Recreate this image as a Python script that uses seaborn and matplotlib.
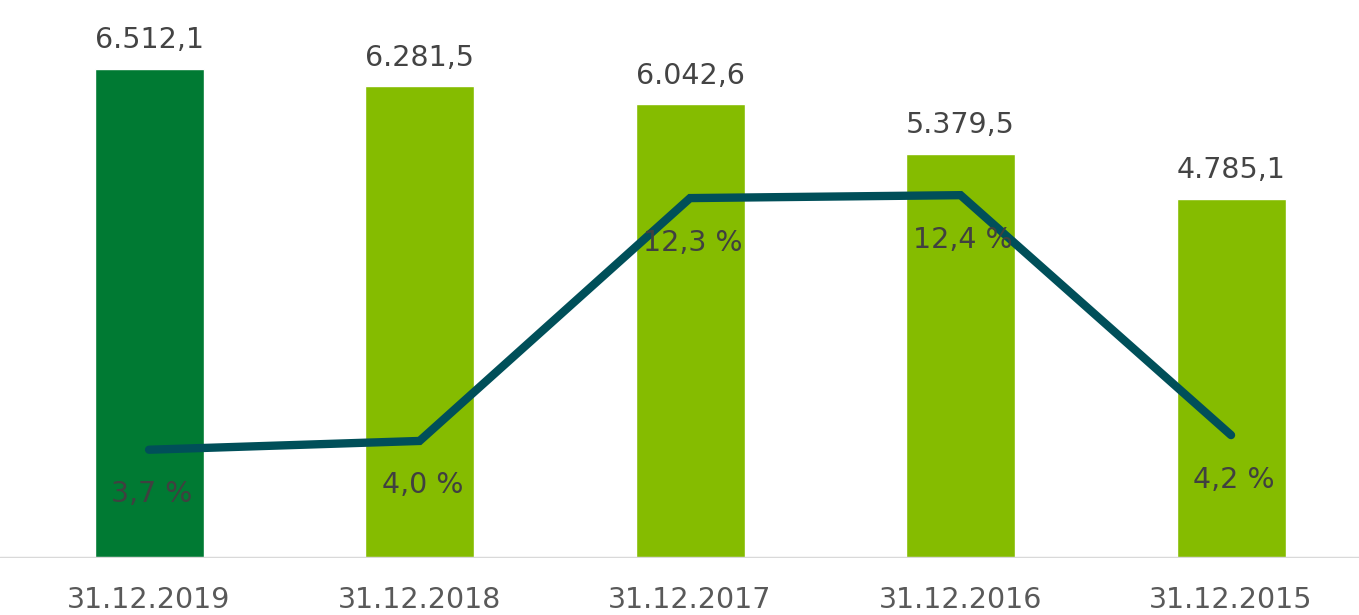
import numpy as np
import pandas as pd
import matplotlib.pyplot as plt
import seaborn as sns

# values
dates = ['31.12.2019', '31.12.2018', '31.12.2017', '31.12.2016', '31.12.2015']
volume = [6512.1, 6281.5, 6042.6, 5379.5, 4785.1]
growth = [3.7, 4.0, 12.3, 12.4, 4.2]

def de_num(v, dec=1):
    s = f'{v:,.{dec}f}'
    return s.replace(',', 'X').replace('.', ',').replace('X', '.')

sns.set_theme(style='white')
plt.rcParams['font.family'] = ['DejaVu Sans']

df = pd.DataFrame({'date': dates, 'volume': volume, 'growth': growth})
df['current'] = ['yes'] + ['no'] * 4

fig = plt.figure(figsize=(13.59, 6.15), dpi=100)
ax = fig.add_axes([0.0, 0.0927, 1.0, 0.9073])

sns.barplot(data=df, x='date', y='volume', hue='current',
            palette={'yes': '#007A33', 'no': '#85BC00'},
            width=0.403, dodge=False, legend=False, ax=ax, saturation=1)
ax.set_ylim(0, 7430)
ax.set_xlim(-0.551, 4.473)

for i, v in enumerate(volume):
    ax.annotate(de_num(v), (i, v), xytext=(0, 10.5), textcoords='offset points',
                ha='center', va='bottom', fontsize=20.5, color='#444444')

ax2 = ax.twinx()
sns.lineplot(x=np.arange(len(dates)), y=growth, ax=ax2, color='#004F59',
             linewidth=6, solid_capstyle='round', solid_joinstyle='miter')
ax2.set_ylim(0, 19.07)
for i, g in enumerate(growth):
    ax2.annotate(de_num(g) + ' %', (i, g), xytext=(2, -32), textcoords='offset points',
                 ha='center', va='center', fontsize=20.5, color='#404040')

for a in (ax, ax2):
    a.set_yticks([])
    a.set_ylabel('')
    for side in ['top', 'right', 'left', 'bottom']:
        a.spines[side].set_visible(False)
ax.axhline(0, color='#d9d9d9', linewidth=2.5, zorder=5)

ax.set_xlabel('')
ax.tick_params(axis='x', length=0, pad=20, labelsize=20.5, labelcolor='#595959')

fig.savefig('out.png', dpi=100)
